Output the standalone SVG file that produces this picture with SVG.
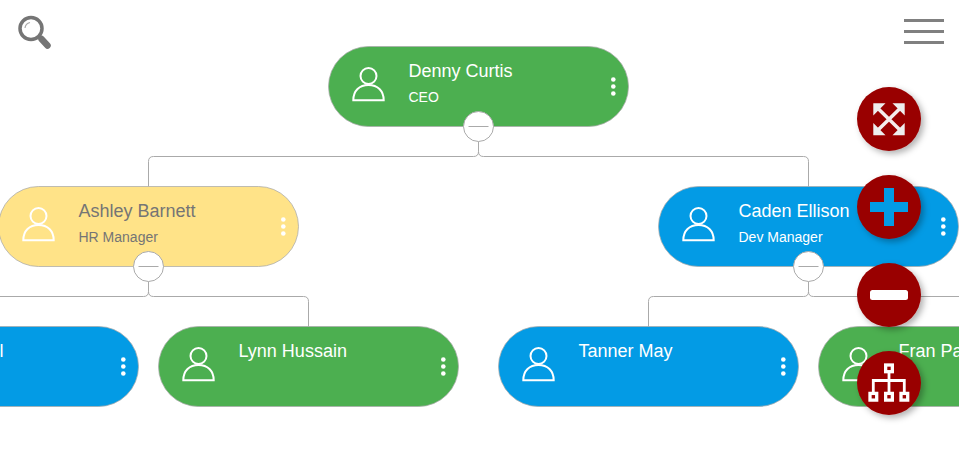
<svg xmlns="http://www.w3.org/2000/svg" width="959" height="461" viewBox="0 0 959 461">
<style>
.card{stroke:#aaa;stroke-width:1;stroke-opacity:.75}
.green{fill:#4CAF50}.blue{fill:#039BE5}.yellow{fill:#FFE388}
.person{fill:none;stroke:#fff;stroke-width:2}
.dot{fill:#fff}
text{font-family:"Liberation Sans",Arial,sans-serif;fill:#fff}
.name{font-size:18px}
.title{font-size:14px}
.muted{fill:#757575}
.link{fill:none;stroke:#aaa;stroke-width:1}
.toggle{fill:#fff;stroke:#aaa;stroke-width:1}
.btn{fill:#990000;filter:url(#shadow)}
</style>
<defs>
<filter id="shadow" x="-30%" y="-30%" width="170%" height="170%"><feDropShadow dx="3" dy="3" stdDeviation="3" flood-color="#000" flood-opacity="0.3"/></filter>
<g id="person"><circle cx="40" cy="29.500" r="8" class="person"/><path class="person" d="M24.800 53.800C24.800 44 31 38.500 40 38.500S55.200 44 55.200 53.800Z"/></g>
<g id="dots"><circle cx="284.800" cy="33" r="2.300" class="dot"/><circle cx="284.800" cy="40" r="2.300" class="dot"/><circle cx="284.800" cy="47" r="2.300" class="dot"/></g>
</defs>
<rect width="959" height="461" fill="#fff"/>
<g id="connectors">
<path class="link" d="M148.500 186.500V161.500Q148.500 156.500 153.500 156.500H473.500Q478.500 156.500 478.500 151.500V141.500"/>
<path class="link" d="M808.500 186.500V161.500Q808.500 156.500 803.500 156.500H483.500Q478.500 156.500 478.500 151.500"/>
<path class="link" d="M-11.500 326.500V301.500Q-11.500 296.500 -6.500 296.500H143.500Q148.500 296.500 148.500 291.500V281.500"/>
<path class="link" d="M308.500 326.500V301.500Q308.500 296.500 303.500 296.500H153.500Q148.500 296.500 148.500 291.500"/>
<path class="link" d="M648.500 326.500V301.500Q648.500 296.500 653.500 296.500H803.500Q808.500 296.500 808.500 291.500V281.500"/>
<path class="link" d="M968.500 326.500V301.500Q968.500 296.500 963.500 296.500H813.500Q808.500 296.500 808.500 291.500"/>
</g>
<g id="node-denny" transform="translate(328.500 46.500)">
<rect class="card green" width="300" height="80" rx="40"/><use href="#person"/><use href="#dots"/>
<text class="name" x="80" y="30.500">Denny Curtis</text><text class="title" x="80" y="55.500">CEO</text>
</g>
<g id="toggle-denny"><circle class="toggle" cx="478.500" cy="126.500" r="15"/><path class="link" d="M468.500 126.500H488.500"/></g>
<g id="node-ashley" transform="translate(-1.500 186.500)">
<rect class="card yellow" width="300" height="80" rx="40"/><use href="#person"/><use href="#dots"/>
<text class="name muted" x="80" y="30.500">Ashley Barnett</text><text class="title muted" x="80" y="55.500">HR Manager</text>
</g>
<g id="toggle-ashley"><circle class="toggle" cx="148.500" cy="266.500" r="15"/><path class="link" d="M138.500 266.500H158.500"/></g>
<g id="node-caden" transform="translate(658.500 186.500)">
<rect class="card blue" width="300" height="80" rx="40"/><use href="#person"/><use href="#dots"/>
<text class="name" x="80" y="30.500">Caden Ellison</text><text class="title" x="80" y="55.500">Dev Manager</text>
</g>
<g id="toggle-caden"><circle class="toggle" cx="808.500" cy="266.500" r="15"/><path class="link" d="M798.500 266.500H818.500"/></g>
<g id="node-left" transform="translate(-161.500 326.500)">
<rect class="card blue" width="300" height="80" rx="40"/><use href="#dots"/>
<text class="name" x="161" y="30.500">l</text>
</g>
<g id="node-lynn" transform="translate(158.500 326.500)">
<rect class="card green" width="300" height="80" rx="40"/><use href="#person"/><use href="#dots"/>
<text class="name" x="80" y="30.500">Lynn Hussain</text>
</g>
<g id="node-tanner" transform="translate(498.500 326.500)">
<rect class="card blue" width="300" height="80" rx="40"/><use href="#person"/><use href="#dots"/>
<text class="name" x="80" y="30.500">Tanner May</text>
</g>
<g id="node-fran" transform="translate(818.500 326.500)">
<rect class="card green" width="300" height="80" rx="40"/><use href="#person"/>
<text class="name" x="80" y="30.500">Fran Pa</text>
</g>
<g id="search" fill="none" stroke="#757575">
<circle cx="31" cy="28.500" r="11" stroke-width="3.500"/>
<path d="M41.500 39L47.500 45.500" stroke-width="6.500" stroke-linecap="round"/>
<path d="M25 28Q25.500 23.500 30 22.500" stroke-width="1.200" stroke="#aaa"/>
</g>
<g id="menu" fill="#808080"><rect x="904" y="19" width="40" height="3"/><rect x="904" y="30" width="40" height="3"/><rect x="904" y="41" width="40" height="3"/></g>
<g id="btn-expand">
<circle class="btn" cx="889" cy="119" r="32"/>
<path stroke="#f5ecec" stroke-width="3.500" d="M877 107.500L901 131M901 107.500L877 131"/>
<path fill="#eee" d="M873.300 103.300H885.500L873.300 115.500ZM904.700 103.300H892.500L904.700 115.500ZM873.300 135.200H885.500L873.300 123ZM904.700 135.200H892.500L904.700 123Z"/>
</g>
<g id="btn-plus">
<circle class="btn" cx="889" cy="207" r="32"/>
<path fill="#039BE5" d="M884 188H894V202H908V212H894V226H884V212H870V202H884Z"/>
</g>
<g id="btn-minus">
<circle class="btn" cx="889" cy="295" r="32"/>
<rect x="870" y="290" width="38" height="10" rx="2.500" fill="#fff"/>
</g>
<g id="btn-org">
<circle class="btn" cx="889" cy="383" r="32"/>
<path fill="none" stroke="#fff" stroke-width="2.800" d="M889 373V392M873.300 392V380.500H904.300V392"/>
<g fill="#990000" stroke="#fff" stroke-width="3.300"><rect x="885.650" y="365" width="6.700" height="6.700"/><rect x="870" y="393.400" width="6.700" height="6.700"/><rect x="885.650" y="393.400" width="6.700" height="6.700"/><rect x="901" y="393.400" width="6.700" height="6.700"/></g>
</g>
</svg>
